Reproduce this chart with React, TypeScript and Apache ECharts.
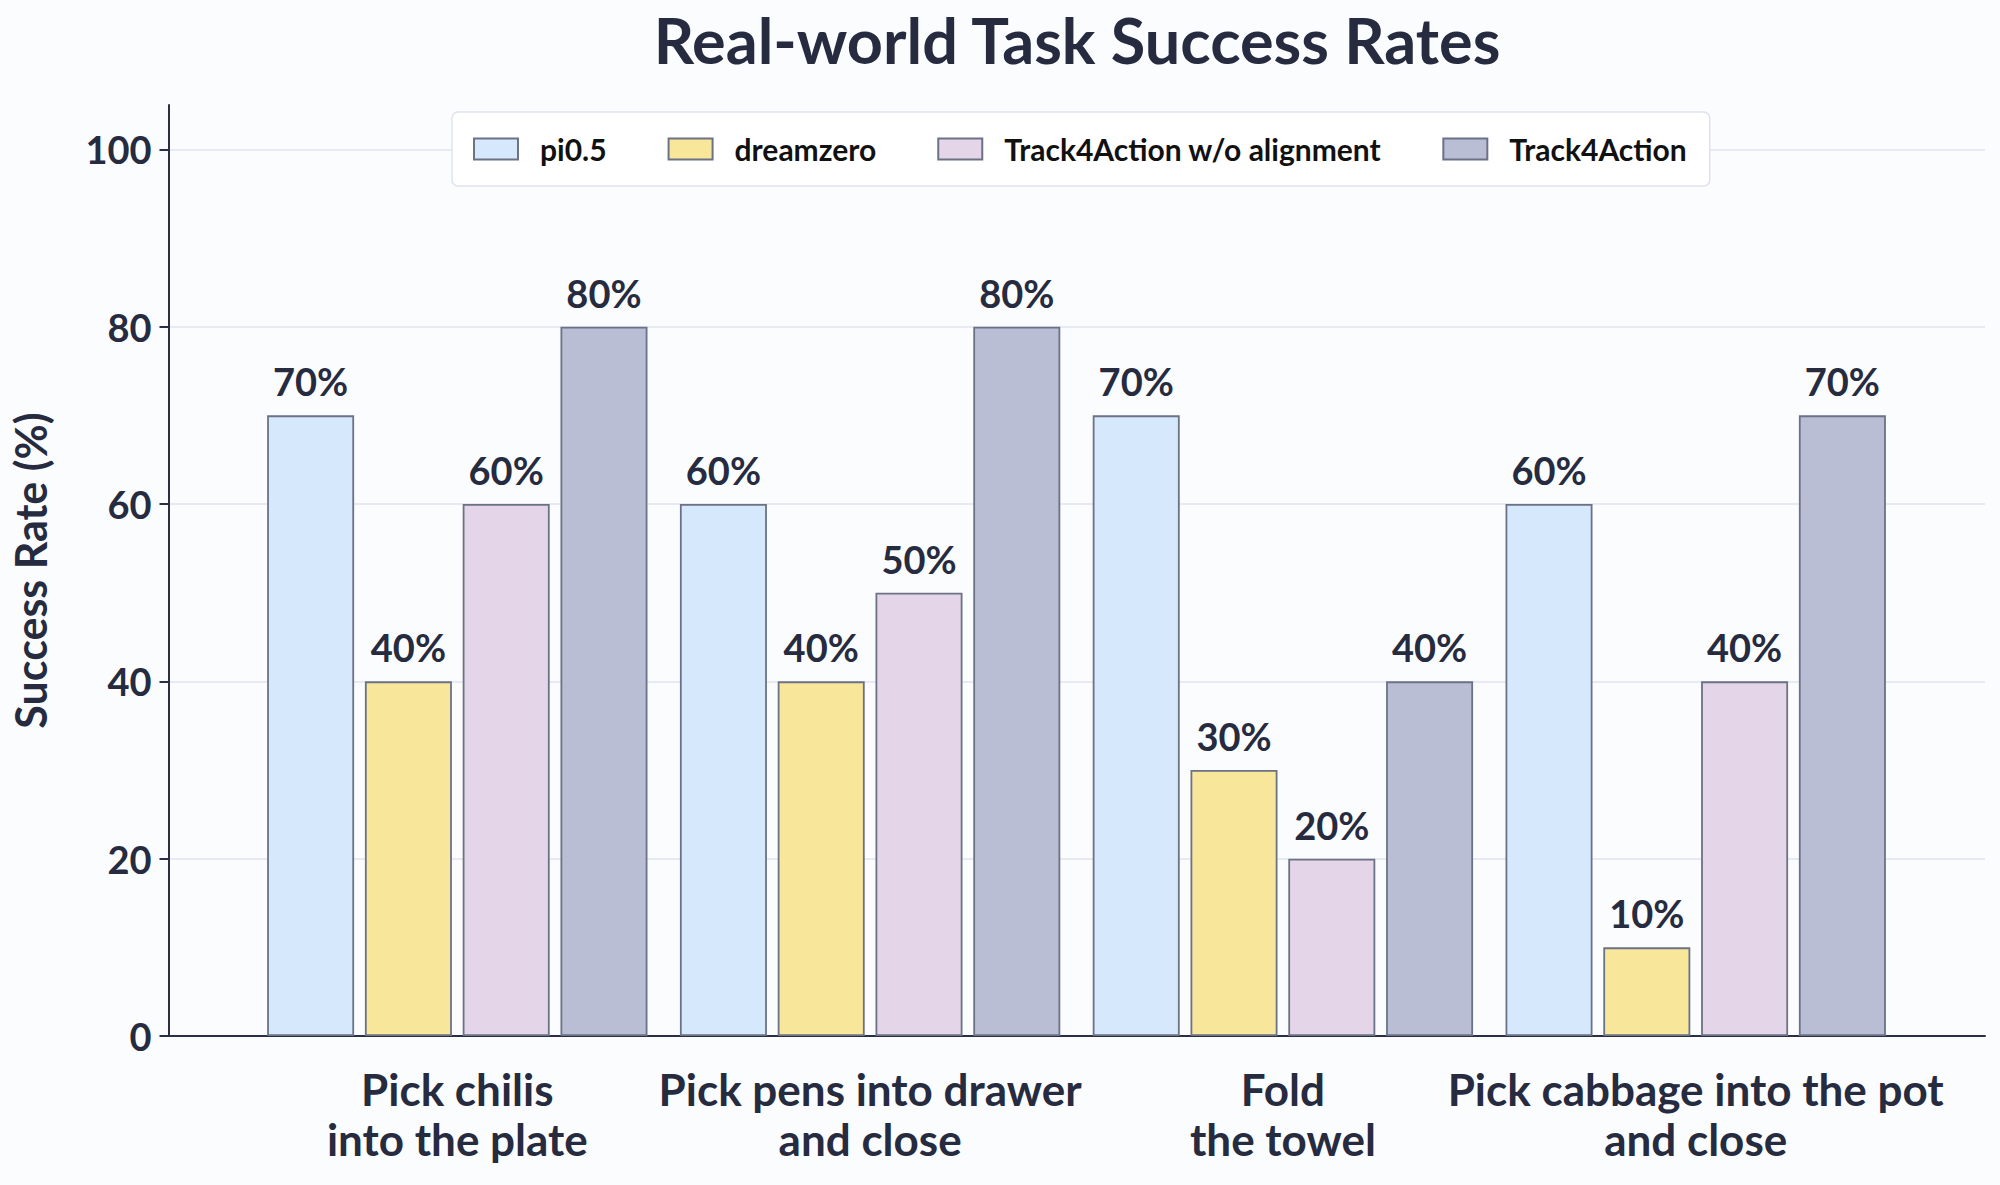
import React, { useEffect, useRef } from "react";
import * as echarts from "echarts";

const categories = [
  "Pick chilis\ninto the plate",
  "Pick pens into drawer\nand close",
  "Fold\nthe towel",
  "Pick cabbage into the pot\nand close",
];
const seriesNames = ["pi0.5", "dreamzero", "Track4Action w/o alignment", "Track4Action"];
const pi05 = [70, 60, 70, 60];
const dreamzero = [40, 40, 30, 10];
const woAlignment = [60, 50, 20, 40];
const track4Action = [80, 80, 40, 70];
const yTicks = [0, 20, 40, 60, 80, 100];

const colors = ["#D6E8FC", "#F8E69B", "#E5D5E8", "#B9BED4"];
const FONT = "Lato";
const TEXT = "#262B3F";

export default function App() {
  const ref = useRef<HTMLDivElement>(null);
  useEffect(() => {
    if (!ref.current) return;
    const chart = echarts.init(ref.current, null, { renderer: "svg" });
    const values = [pi05, dreamzero, woAlignment, track4Action];
    const yMin = 0;
    const yMax = 105;
    const top = 105;
    const bottom = 149;
    chart.setOption({
      animation: false,
      backgroundColor: "#FBFCFE",
      textStyle: { fontFamily: FONT },
      title: {
        text: "Real-world Task Success Rates",
        left: 1077,
        top: 8,
        padding: 0,
        textAlign: "center",
        textStyle: { fontFamily: FONT, fontSize: 63, fontWeight: "bold", color: TEXT },
      },
      legend: {
        data: seriesNames,
        left: 452,
        top: 112,
        orient: "horizontal",
        icon: "rect",
        itemWidth: 44,
        itemHeight: 21,
        itemGap: 61,
        padding: [22, 23, 22, 21],
        backgroundColor: "#FFFFFF",
        borderColor: "#E0E3EC",
        borderWidth: 1.5,
        borderRadius: 6,
        textStyle: {
          fontFamily: FONT,
          fontSize: 30,
          fontWeight: "bold",
          color: "#111111",
          padding: [0, 0, 0, 17],
        },
      },
      grid: [
        { left: 168.5, right: 15, top, bottom },
        { left: 250.9, right: 97.9, top, bottom },
      ],
      xAxis: [
        {
          type: "value",
          gridIndex: 0,
          min: -0.7,
          max: 3.7,
          axisLine: { show: true, lineStyle: { color: "#2A2F45", width: 2 } },
          axisTick: { show: false },
          axisLabel: { show: false },
          splitLine: { show: false },
        },
        {
          type: "category",
          gridIndex: 1,
          data: categories,
          axisLine: { show: false },
          axisTick: { show: false },
          axisLabel: {
            interval: 0,
            fontFamily: FONT,
            fontSize: 44,
            fontWeight: "bold",
            lineHeight: 50,
            color: TEXT,
            margin: 28,
            align: "center",
          },
        },
      ],
      yAxis: [
        {
          type: "value",
          gridIndex: 0,
          min: yMin,
          max: yMax,
          name: "Success Rate (%)",
          nameLocation: "middle",
          nameGap: 117,
          nameTextStyle: { fontFamily: FONT, fontSize: 43, fontWeight: "bold", color: TEXT },
          axisLine: { show: true, onZero: false, lineStyle: { color: "#2A2F45", width: 2 } },
          axisTick: {
            show: true,
            length: 9,
            customValues: yTicks,
            lineStyle: { color: "#2A2F45", width: 2 },
          },
          axisLabel: {
            customValues: yTicks,
            fontFamily: FONT,
            fontSize: 38,
            fontWeight: "bold",
            color: TEXT,
            margin: 17,
          },
          splitLine: { show: true, lineStyle: { color: "#E2E5EF", width: 1.5 } },
        },
        {
          type: "value",
          gridIndex: 1,
          min: yMin,
          max: yMax,
          show: false,
        },
      ],
      series: seriesNames.map((name, i) => ({
        name,
        type: "bar",
        xAxisIndex: 1,
        yAxisIndex: 1,
        data: values[i],
        barWidth: 87,
        barGap: "12.4%",
        itemStyle: { color: colors[i], borderColor: "#6B7286", borderWidth: 1.8 },
        label: {
          show: true,
          position: "top",
          distance: 15,
          formatter: "{c}%",
          fontFamily: FONT,
          fontSize: 38,
          fontWeight: "bold",
          color: TEXT,
        },
      })),
    });
    return () => chart.dispose();
  }, []);
  return (
    <div
      ref={ref}
      style={{ position: "fixed", left: 0, top: 0, width: 2000, height: 1185 }}
    />
  );
}
